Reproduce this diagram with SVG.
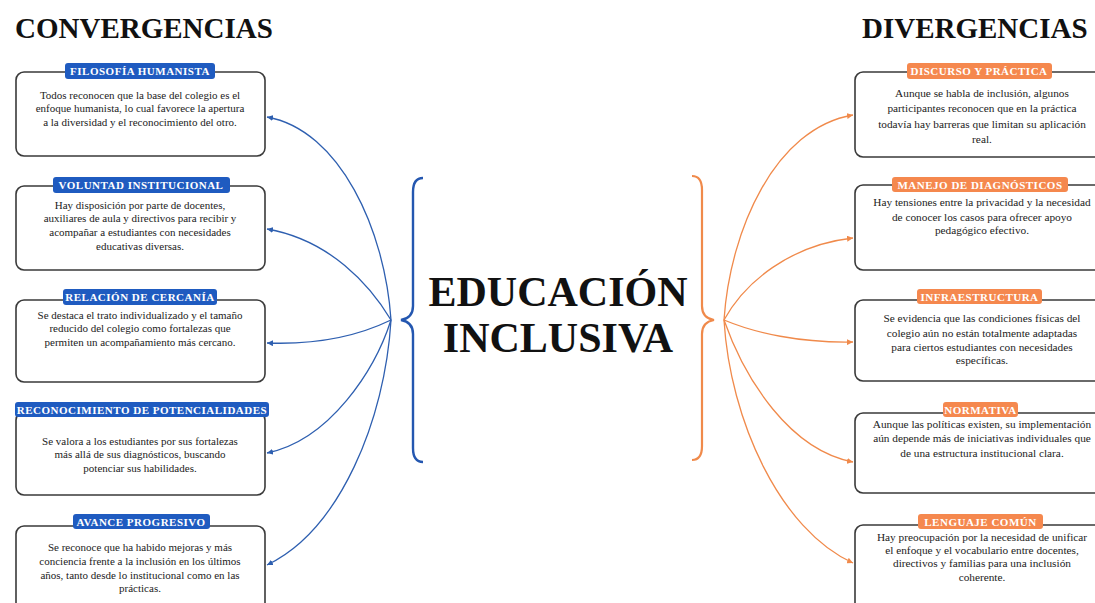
<svg xmlns="http://www.w3.org/2000/svg" width="1095" height="603" viewBox="0 0 1095 603">
<defs>
<style>
.hdr{font-family:"Liberation Serif","Times New Roman",serif;font-weight:bold;font-size:29px;fill:#111}
.ctr{font-family:"Liberation Serif","Times New Roman",serif;font-weight:bold;font-size:42px;fill:#111;text-anchor:middle}
.box{fill:#fff;stroke:#3a3a3a;stroke-width:1.6}
.pb{fill:#1F5BC0}
.po{fill:#F5884E}
.pt{font-family:"Liberation Serif","Times New Roman",serif;font-weight:bold;font-size:11px;letter-spacing:0.5px;fill:#fff;text-anchor:middle}
.bt{font-family:"Liberation Serif","Times New Roman",serif;font-size:11px;fill:#222;text-anchor:middle}
.bt2{font-family:"Liberation Serif","Times New Roman",serif;font-size:11.3px;fill:#222;text-anchor:middle}
.cb{fill:none;stroke:#2E5FB0;stroke-width:1.3}
.co{fill:none;stroke:#F08A4B;stroke-width:1.3}
</style>
<marker id="ab" markerWidth="6" markerHeight="6" refX="6" refY="3" orient="auto" markerUnits="userSpaceOnUse"><path d="M0,0 L6,3 L0,6 z" fill="#2E5FB0"/></marker>
<marker id="ao" markerWidth="6" markerHeight="6" refX="6" refY="3" orient="auto" markerUnits="userSpaceOnUse"><path d="M0,0 L6,3 L0,6 z" fill="#F08A4B"/></marker>
</defs>
<rect width="1095" height="603" fill="#fff"/>
<text class="hdr" x="15" y="38">CONVERGENCIAS</text>
<text class="hdr" x="862" y="38">DIVERGENCIAS</text>

<g id="center">
<text class="ctr" x="558" y="306">EDUCACIÓN</text>
<text class="ctr" x="558" y="352">INCLUSIVA</text>
<path d="M423,178 Q413,178 413,192 L413,306 Q413,318 401,320 Q413,322 413,334 L413,448 Q413,462 423,462" fill="none" stroke="#2457B0" stroke-width="2.4"/>
<path d="M692,176 Q702,176 702,190 L702,306 Q702,318 714,320 Q702,322 702,334 L702,446 Q702,460 692,460" fill="none" stroke="#F08A4B" stroke-width="2.2"/>
</g>

<g id="connectors">
<path class="cb" marker-end="url(#ab)" d="M391,320 C385,230 340,130 267,117"/>
<path class="cb" marker-end="url(#ab)" d="M391,320 C370,285 330,240 267,229"/>
<path class="cb" marker-end="url(#ab)" d="M391,320 C360,335 320,345 267,343"/>
<path class="cb" marker-end="url(#ab)" d="M391,320 C375,370 330,440 267,453"/>
<path class="cb" marker-end="url(#ab)" d="M391,320 C385,420 340,530 267,565"/>
<path class="co" marker-end="url(#ao)" d="M724,320 C730,230 775,128 853,115"/>
<path class="co" marker-end="url(#ao)" d="M724,320 C745,282 790,245 853,238"/>
<path class="co" marker-end="url(#ao)" d="M724,320 C755,333 800,343 853,342"/>
<path class="co" marker-end="url(#ao)" d="M724,320 C745,380 790,450 853,462"/>
<path class="co" marker-end="url(#ao)" d="M724,320 C730,420 780,530 853,563"/>
</g>

<g id="c1">
<rect class="box" x="16" y="72" width="249" height="84" rx="8"/>
<rect class="pb" x="65" y="63" width="150" height="16" rx="3"/>
<text class="pt" x="140" y="75">FILOSOFÍA HUMANISTA</text>
<text class="bt" x="140" y="99">Todos reconocen que la base del colegio es el</text>
<text class="bt" x="140" y="112">enfoque humanista, lo cual favorece la apertura</text>
<text class="bt" x="140" y="126">a la diversidad y el reconocimiento del otro.</text>
</g>
<g id="c2">
<rect class="box" x="16" y="186" width="249" height="84" rx="8"/>
<rect class="pb" x="53" y="177" width="177" height="16" rx="3"/>
<text class="pt" x="141" y="189">VOLUNTAD INSTITUCIONAL</text>
<text class="bt" x="140" y="209">Hay disposición por parte de docentes,</text>
<text class="bt" x="140" y="222">auxiliares de aula y directivos para recibir y</text>
<text class="bt" x="140" y="236">acompañar a estudiantes con necesidades</text>
<text class="bt" x="140" y="250">educativas diversas.</text>
</g>
<g id="c3">
<rect class="box" x="16" y="300" width="249" height="82" rx="8"/>
<rect class="pb" x="63" y="289" width="154" height="16" rx="3"/>
<text class="pt" x="140" y="301">RELACIÓN DE CERCANÍA</text>
<text class="bt" x="140" y="319">Se destaca el trato individualizado y el tamaño</text>
<text class="bt" x="140" y="332">reducido del colegio como fortalezas que</text>
<text class="bt" x="140" y="346">permiten un acompañamiento más cercano.</text>
</g>
<g id="c4">
<rect class="box" x="16" y="412" width="249" height="83" rx="8"/>
<rect class="pb" x="15" y="402" width="254" height="15" rx="3"/>
<text class="pt" x="142" y="413.5">RECONOCIMIENTO DE POTENCIALIDADES</text>
<text class="bt" x="140" y="445">Se valora a los estudiantes por sus fortalezas</text>
<text class="bt" x="140" y="458">más allá de sus diagnósticos, buscando</text>
<text class="bt" x="140" y="472">potenciar sus habilidades.</text>
</g>
<g id="c5">
<rect class="box" x="16" y="526" width="249" height="90" rx="8"/>
<rect class="pb" x="73" y="514" width="137" height="15" rx="3"/>
<text class="pt" x="141" y="525.5">AVANCE PROGRESIVO</text>
<text class="bt" x="140" y="551">Se reconoce que ha habido mejoras y más</text>
<text class="bt" x="140" y="565">conciencia frente a la inclusión en los últimos</text>
<text class="bt" x="140" y="579">años, tanto desde lo institucional como en las</text>
<text class="bt" x="140" y="592">prácticas.</text>
</g>

<g id="d1">
<rect class="box" x="855" y="72" width="252" height="85" rx="8"/>
<rect class="po" x="907" y="63" width="145" height="16" rx="3"/>
<text class="pt" x="979" y="75">DISCURSO Y PRÁCTICA</text>
<text class="bt2" x="982" y="97">Aunque se habla de inclusión, algunos</text>
<text class="bt2" x="982" y="112">participantes reconocen que en la práctica</text>
<text class="bt2" x="982" y="128">todavía hay barreras que limitan su aplicación</text>
<text class="bt2" x="982" y="143">real.</text>
</g>
<g id="d2">
<rect class="box" x="855" y="185" width="252" height="85" rx="8"/>
<rect class="po" x="892" y="177" width="176" height="15" rx="3"/>
<text class="pt" x="980" y="188.5">MANEJO DE DIAGNÓSTICOS</text>
<text class="bt2" x="982" y="206">Hay tensiones entre la privacidad y la necesidad</text>
<text class="bt2" x="982" y="221">de conocer los casos para ofrecer apoyo</text>
<text class="bt2" x="982" y="234">pedagógico efectivo.</text>
</g>
<g id="d3">
<rect class="box" x="855" y="300" width="252" height="81" rx="8"/>
<rect class="po" x="917" y="289" width="125" height="15" rx="3"/>
<text class="pt" x="979.5" y="300.5">INFRAESTRUCTURA</text>
<text class="bt2" x="982" y="322">Se evidencia que las condiciones físicas del</text>
<text class="bt2" x="982" y="337">colegio aún no están totalmente adaptadas</text>
<text class="bt2" x="982" y="351">para ciertos estudiantes con necesidades</text>
<text class="bt2" x="982" y="364">específicas.</text>
</g>
<g id="d4">
<rect class="box" x="855" y="413" width="252" height="80" rx="8"/>
<rect class="po" x="943" y="402" width="75" height="15" rx="3"/>
<text class="pt" x="980.5" y="413.5">NORMATIVA</text>
<text class="bt2" x="982" y="428">Aunque las políticas existen, su implementación</text>
<text class="bt2" x="982" y="442">aún depende más de iniciativas individuales que</text>
<text class="bt2" x="982" y="457">de una estructura institucional clara.</text>
</g>
<g id="d5">
<rect class="box" x="855" y="525" width="252" height="90" rx="8"/>
<rect class="po" x="918" y="514" width="125" height="15" rx="3"/>
<text class="pt" x="980.5" y="525.5">LENGUAJE COMÚN</text>
<text class="bt2" x="982" y="541">Hay preocupación por la necesidad de unificar</text>
<text class="bt2" x="982" y="554">el enfoque y el vocabulario entre docentes,</text>
<text class="bt2" x="982" y="567">directivos y familias para una inclusión</text>
<text class="bt2" x="982" y="581">coherente.</text>
</g>
</svg>
